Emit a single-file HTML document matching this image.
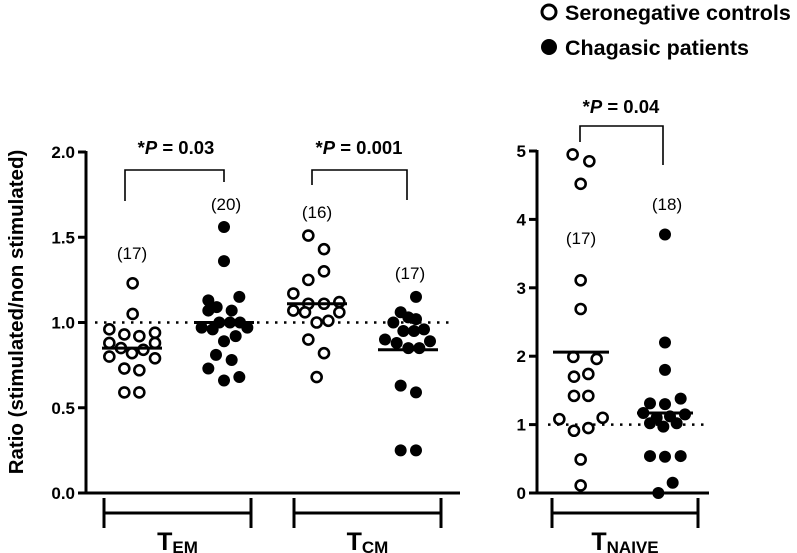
<!DOCTYPE html>
<html><head><meta charset="utf-8"><style>
body{margin:0;background:#fff;}
svg{display:block;font-family:"Liberation Sans",Arial,sans-serif;}
</style></head><body>
<svg id="c" width="797" height="553" viewBox="0 0 797 553">
<g>
<circle cx="549" cy="12" r="7" fill="#fff" stroke="#000" stroke-width="3"/>
<text x="565" y="20" font-size="21.5" font-weight="bold">Seronegative controls</text>
<circle cx="549" cy="47" r="8" fill="#000"/>
<text x="565" y="55" font-size="21.5" font-weight="bold">Chagasic patients</text>
</g>
<text transform="translate(23,312) rotate(-90)" text-anchor="middle" font-size="20.5" font-weight="bold">Ratio (stimulated/non stimulated)</text>
</svg>
<script>
// Left panel data
const leftTicks=["0.0","0.5","1.0","1.5","2.0"];
const temCtrl=[1.23,1.05,0.96,0.93,0.92,0.94,0.88,0.85,0.82,0.84,0.88,0.80,0.79,0.73,0.72,0.59,0.59];
const temCtrlJit=[218,218,148,193,238,285,148,183,216,250,285,148,285,193,238,193,238];
const temPat=[1.56,1.36,1.13,1.15,1.09,1.07,1.07,0.97,0.96,1.00,1.00,1.00,0.97,0.89,0.92,0.81,0.78,0.73,0.68,0.66];
const temPatJit=[492,492,445,538,470,445,515,425,458,478,510,540,562,492,527,468,515,445,538,492];
const tcmCtrl=[1.51,1.43,1.30,1.25,1.17,1.11,1.11,1.12,1.07,1.06,1.06,1.00,1.01,0.90,0.82,0.68];
const tcmCtrlJit=[745,792,792,745,700,745,792,838,700,735,838,770,805,745,792,770];
const tcmPat=[1.15,1.06,1.03,1.02,1.00,0.95,0.95,0.96,0.90,0.88,0.89,0.85,0.85,0.63,0.59,0.25,0.25];
const tcmPatJit=[1068,1022,1045,1068,1000,1030,1062,1092,975,1010,1110,1045,1078,1022,1068,1022,1068];
const leftMedians=[0.85,1.00,1.11,0.84];
const leftCounts=["(17)","(20)","(16)","(17)"];
// Right panel data
const rightTicks=["0","1","2","3","4","5"];
const naiCtrl=[4.95,4.85,4.52,3.11,2.69,1.99,1.96,1.70,1.74,1.42,1.42,1.08,1.10,0.91,0.95,0.49,0.11];
const naiCtrlJit=[218,268,242,242,242,220,290,222,265,222,265,178,308,222,265,242,242];
const naiPat=[3.78,2.20,1.80,1.31,1.30,1.38,1.17,1.10,1.12,1.15,1.02,0.97,1.02,0.54,0.53,0.54,0.15,0.0];
const naiPatJit=[495,495,495,450,495,542,430,470,510,555,450,490,530,450,495,542,518,475];
const rightMedians=[2.06,1.17];
const rightCounts=["(17)","(18)"];

const svg=document.getElementById('c');
const NS='http://www.w3.org/2000/svg';
function mk(t,a,p){const e=document.createElementNS(NS,t);for(const k in a)e.setAttribute(k,a[k]);(p||svg).appendChild(e);return e;}
const yL=v=>493-v/2*341;
const yR=v=>493-v/5*342;
const zxL=z=>60+z/3, zxR=z=>500+z/3;

let e=mk('line',{x1:86,y1:151,x2:86,y2:494,stroke:'#000','stroke-width':3});


e=mk('line',{x1:85,y1:493,x2:460,y2:493,stroke:'#000','stroke-width':3});


leftTicks.forEach(t=>{const v=parseFloat(t);const y=yL(v);
 mk('line',{x1:78,y1:y,x2:86,y2:y,stroke:'#000','stroke-width':3});
 const tx=mk('text',{x:75,y:y+6,'text-anchor':'end','font-size':17,'font-weight':'bold'});tx.textContent=t;
 
 });
e=mk('line',{x1:95,y1:yL(1),x2:452,y2:yL(1),stroke:'#000','stroke-width':2.5,'stroke-dasharray':'2.5 6.5'});



e=mk('line',{x1:537,y1:150,x2:537,y2:494,stroke:'#000','stroke-width':3});


e=mk('line',{x1:536,y1:493,x2:709,y2:493,stroke:'#000','stroke-width':3});


rightTicks.forEach(t=>{const v=parseFloat(t);const y=yR(v);
 mk('line',{x1:529,y1:y,x2:537,y2:y,stroke:'#000','stroke-width':3});
 const tx=mk('text',{x:526,y:y+6,'text-anchor':'end','font-size':17,'font-weight':'bold'});tx.textContent=t;
 
 });
e=mk('line',{x1:548,y1:yR(1),x2:707,y2:yR(1),stroke:'#000','stroke-width':2.5,'stroke-dasharray':'2.5 6.5'});



function pts(vals,jit,ys,xs,open,name){vals.forEach((v,i)=>{
 const c=mk('circle',{cx:xs(jit[i]),cy:ys(v),r:open?5:6,fill:open?'#fff':'#000',stroke:open?'#000':'none','stroke-width':2.6});
 
 });}
pts(temCtrl,temCtrlJit,yL,zxL,true,'tem-control-point');
pts(temPat,temPatJit,yL,zxL,false,'tem-patient-point');
pts(tcmCtrl,tcmCtrlJit,yL,zxL,true,'tcm-control-point');
pts(tcmPat,tcmPatJit,yL,zxL,false,'tcm-patient-point');
pts(naiCtrl,naiCtrlJit,yR,zxR,true,'naive-control-point');
pts(naiPat,naiPatJit,yR,zxR,false,'naive-patient-point');

const leftCenters=[132,224,317,408];
leftMedians.forEach((m,i)=>{const l=mk('line',{x1:leftCenters[i]-30,y1:yL(m),x2:leftCenters[i]+30,y2:yL(m),stroke:'#000','stroke-width':3});
 
 });
const rightCenters=[581,665];
rightMedians.forEach((m,i)=>{const l=mk('line',{x1:rightCenters[i]-28,y1:yR(m),x2:rightCenters[i]+28,y2:yR(m),stroke:'#000','stroke-width':3});
 
 });

function txt(x,y,s,size,bold,name){const t=mk('text',{x:x,y:y,'text-anchor':'middle','font-size':size,'font-weight':bold?'bold':'normal'});t.textContent=s;
 
 return t;}
const countPos=[[132,259],[226,210],[317,218],[410,279],[581,244],[667,210]];
leftCounts.concat(rightCounts).forEach((s,i)=>txt(countPos[i][0],countPos[i][1],s,17,false,'sample-count'));

function bracket(x1,x2,top,l,r){const p=mk('path',{d:`M${x1} ${l}V${top}H${x2}V${r}`,fill:'none',stroke:'#000','stroke-width':1.6});
 
 }
bracket(125,224,170,201,182);bracket(312,407,170,185,200);bracket(580,663,126,142,165);
function ptext(x,y,val){const t=mk('text',{x:x,y:y,'text-anchor':'middle','font-size':18.5,'font-weight':'bold'});
 t.innerHTML='*<tspan font-style="italic">P</tspan> = '+val;
 
 }
ptext(176,154,'0.03');ptext(359,154,'0.001');ptext(621,113,'0.04');

function grp(x1,x2,label,sub){const p=mk('path',{d:`M${x1} 498V528M${x1} 513H${x2}M${x2} 498V528`,fill:'none',stroke:'#000','stroke-width':3});
 
 
 const t=mk('text',{x:(x1+x2)/2,y:550,'text-anchor':'middle','font-size':25,'font-weight':'bold'});
 t.innerHTML=label+'<tspan font-size="17" dy="3">'+sub+'</tspan>';
 
 }
grp(104,251,'T','EM');grp(294,441,'T','CM');grp(552,698,'T','NAIVE');
</script>
</body></html>
